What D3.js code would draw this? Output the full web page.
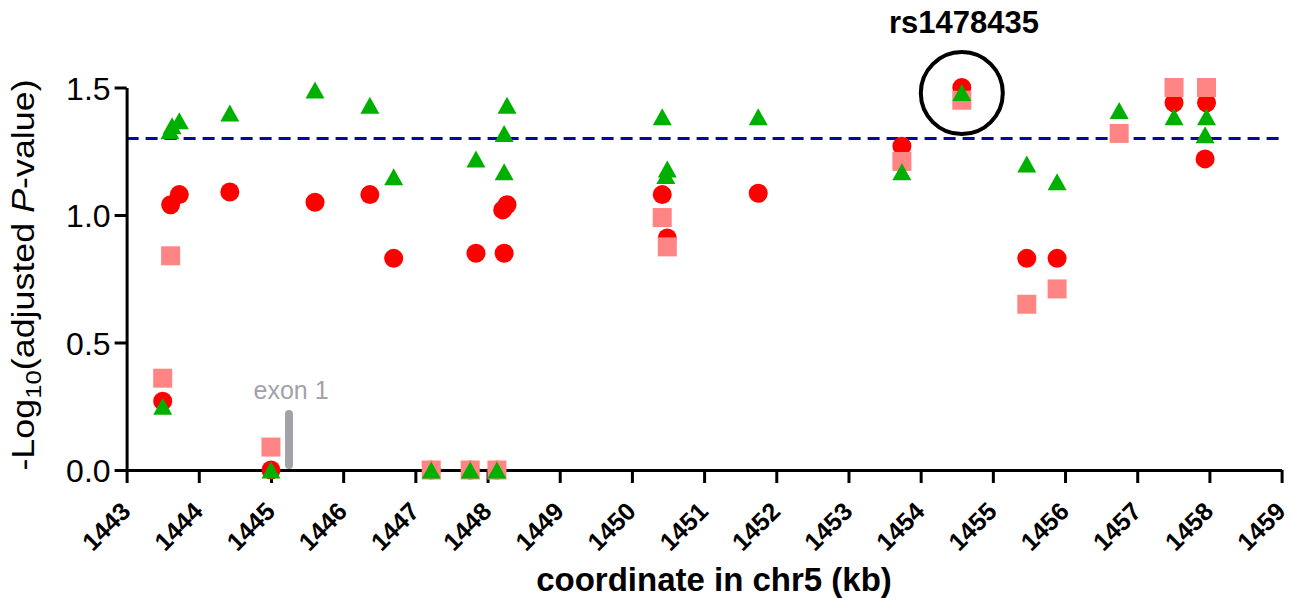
<!DOCTYPE html>
<html>
<head>
<meta charset="utf-8">
<script src="https://cdn.jsdelivr.net/npm/d3@7"></script>
<style>
  body { margin: 0; background: #fff; }
  svg { font-family: "Liberation Sans", Arial, sans-serif; }
</style>
</head>
<body>
<div id="chart"></div>
<script>
// red circles
var circleKb = [1443.50, 1443.61, 1443.73, 1444.43, 1445.00, 1445.61, 1446.37, 1446.70, 1447.22, 1447.76,
  1447.84, 1448.13, 1448.23, 1448.21, 1448.27, 1450.42, 1450.49, 1451.75, 1453.74, 1454.57,
  1455.47, 1455.89, 1457.51, 1457.96, 1457.94];
var circleP = [0.27, 1.04, 1.08, 1.09, 0.00, 1.05, 1.08, 0.83, 0.00, 0.00,
  0.85, 0.00, 0.85, 1.02, 1.04, 1.08, 0.91, 1.085, 1.27, 1.50,
  0.83, 0.83, 1.44, 1.44, 1.22];

// pink squares
var squareKb = [1443.50, 1443.61, 1445.00, 1447.22, 1447.76, 1448.13, 1450.42, 1450.49, 1453.74, 1454.57,
  1455.47, 1455.89, 1456.75, 1457.51, 1457.96];
var squareP = [0.36, 0.84, 0.09, 0.00, 0.00, 0.00, 0.99, 0.875, 1.21, 1.45,
  0.65, 0.71, 1.32, 1.50, 1.50];

// green triangles
var triangleKb = [1443.50, 1443.60, 1443.63, 1443.73, 1444.43, 1445.00, 1445.61, 1446.37, 1446.70, 1447.22,
  1447.76, 1447.84, 1448.13, 1448.23, 1448.23, 1448.27, 1450.42, 1450.49, 1450.47, 1451.75,
  1453.74, 1454.57, 1455.47, 1455.89, 1456.75, 1457.51, 1457.96, 1457.94];
var triangleP = [0.25, 1.33, 1.35, 1.37, 1.40, 0.00, 1.49, 1.43, 1.15, 0.00,
  0.00, 1.22, 0.00, 1.17, 1.32, 1.43, 1.385, 1.18, 1.155, 1.385,
  1.17, 1.48, 1.20, 1.13, 1.41, 1.385, 1.385, 1.315];

var xTicks = d3.range(1443, 1460);
var yTicks = [0, 0.5, 1.0, 1.5];
var threshold = 1.3;
var exonKb = 1445.25;
var exonTop = 0.22;
var highlightKb = 1454.57, highlightP = 1.49;

var width = 1293, height = 598;
var svg = d3.select("#chart").append("svg")
  .attr("width", width)
  .attr("height", height);

var x = d3.scaleLinear().domain([1443, 1459]).range([126.6, 1281.6]);
var y = d3.scaleLinear().domain([0, 1.5]).range([470, 87.5]);

// threshold line
svg.append("line")
  .attr("x1", x(1443)).attr("x2", x(1459) - 3)
  .attr("y1", y(threshold)).attr("y2", y(threshold))
  .style("stroke", "#0808a0")
  .style("stroke-width", 3)
  .style("stroke-dasharray", "12,7");

// exon 1 mark
svg.append("line")
  .attr("x1", x(exonKb)).attr("x2", x(exonKb))
  .attr("y1", y(exonTop)).attr("y2", y(0.02))
  .style("stroke", "#a2a2a8")
  .style("stroke-width", 8)
  .style("stroke-linecap", "round");
svg.append("text").text("exon 1")
  .attr("x", x(exonKb) + 2).attr("y", 399)
  .attr("text-anchor", "middle")
  .style("font-size", "25px")
  .attr("fill", "#a2a2a8");

// axes
var xAxis = svg.append("g")
  .attr("transform", "translate(0," + y(0) + ")")
  .call(d3.axisBottom(x).tickValues(xTicks).tickSize(13).tickSizeOuter(0).tickFormat(d3.format("d")));
xAxis.selectAll("text")
  .attr("text-anchor", "end")
  .attr("transform", "translate(5,43) rotate(-45)")
  .attr("dy", 0)
  .attr("y", 0)
  .attr("x", 0)
  .style("font-size", "25px")
  .style("font-weight", "bold")
  .attr("fill", "#000");

var yAxis = svg.append("g")
  .attr("transform", "translate(" + x(1443) + ",0)")
  .call(d3.axisLeft(y).tickValues(yTicks).tickSize(12).tickSizeOuter(0).tickFormat(d3.format(".1f")));
yAxis.selectAll("text")
  .attr("x", -16)
  .attr("dy", "0.36em")
  .style("font-size", "32px")
  .attr("fill", "#000");

svg.selectAll(".domain").style("stroke", "#000").style("stroke-width", 3);
svg.selectAll(".tick line").style("stroke", "#000").style("stroke-width", 3);

// axis titles
svg.append("text").text("coordinate in chr5 (kb)")
  .attr("x", 714).attr("y", 591)
  .attr("text-anchor", "middle")
  .style("font-size", "33px")
  .style("font-weight", "bold");

var yTitle = svg.append("text")
  .attr("transform", "translate(34,275) rotate(-90) scale(1.12,1)")
  .attr("text-anchor", "middle")
  .style("font-size", "32px");
yTitle.append("tspan").text("-Log");
yTitle.append("tspan").text("10").style("font-size", "23px").attr("dy", 7);
yTitle.append("tspan").text("(adjusted ").attr("dy", -7);
yTitle.append("tspan").text("P").style("font-style", "italic");
yTitle.append("tspan").text("-value)");

// markers
var circles = circleKb.map(function(d, i) { return [d, circleP[i]]; });
var squares = squareKb.map(function(d, i) { return [d, squareP[i]]; });
var triangles = triangleKb.map(function(d, i) { return [d, triangleP[i]]; });

svg.append("g").selectAll("circle").data(circles).enter().append("circle")
  .attr("cx", function(d) { return x(d[0]); })
  .attr("cy", function(d) { return y(d[1]); })
  .attr("r", 9.5)
  .style("fill", "#ff0000");

var sq = 19;
svg.append("g").selectAll("rect").data(squares).enter().append("rect")
  .attr("x", function(d) { return x(d[0]) - sq / 2; })
  .attr("y", function(d) { return y(d[1]) - sq / 2; })
  .attr("width", sq).attr("height", sq)
  .style("fill", "#ff8585");

var tw = 19, th = 17;
svg.append("g").selectAll("path").data(triangles).enter().append("path")
  .attr("d", function(d) {
    var cx = x(d[0]), cy = y(d[1]);
    return "M " + cx + " " + (cy - th / 2) + " L " + (cx + tw / 2) + " " + (cy + th / 2) +
      " L " + (cx - tw / 2) + " " + (cy + th / 2) + " z";
  })
  .style("fill", "#00b000");

// highlighted SNP
svg.append("circle")
  .attr("cx", x(highlightKb)).attr("cy", y(highlightP) + 3)
  .attr("r", 41)
  .style("fill", "none")
  .style("stroke", "#000")
  .style("stroke-width", 4);
svg.append("text").text("rs1478435")
  .attr("x", 964).attr("y", 33)
  .attr("text-anchor", "middle")
  .style("font-size", "31px")
  .style("font-weight", "bold");
</script>
</body>
</html>
